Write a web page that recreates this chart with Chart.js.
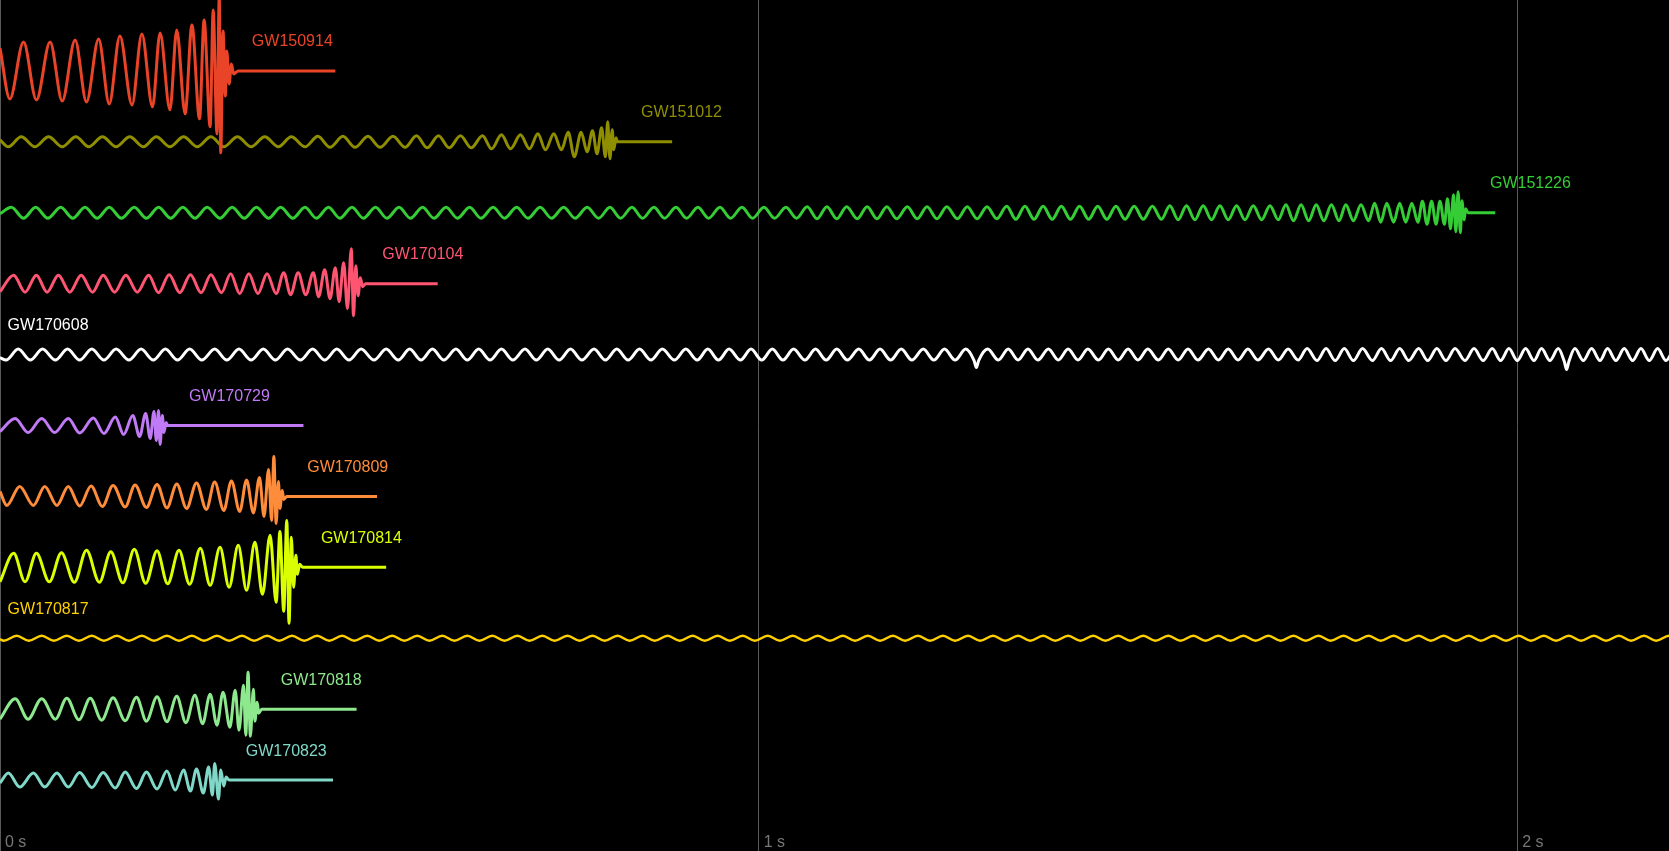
<!DOCTYPE html>
<html>
<head>
<meta charset="utf-8">
<script src="https://cdn.jsdelivr.net/npm/chart.js"></script>
<style>
html,body{margin:0;padding:0;background:#000;overflow:hidden;}
#wrap{position:absolute;left:0;top:0;width:1669px;height:851px;}
</style>
</head>
<body>
<div id="wrap"><canvas id="c"></canvas></div>
<script>
// ---------- data (times in ms, strain in arbitrary display units) ----------
const events = ['GW150914','GW151012','GW151226','GW170104','GW170608','GW170729','GW170809','GW170814','GW170817','GW170818','GW170823'];
const colors = ['#ea4428','#8f8e00','#35cd35','#ff5573','#ffffff','#c07af5','#ff8c3a','#daff00','#ffd000','#8ee88e','#80d8c8'];
const labelAt = [332, 845, 1964, 504, 10, 249, 405, 423, 10, 370, 324];
const tickValues = [0, 1000, 2000];
const tickLabels = ['0 s', '1 s', '2 s'];

const gw150914_t = [0,13,31,48,66,82,99,114,130,144,158,174,187,201,211,224,233,244,253,263,269,277,281,286,289,291,294,297,299,302,305,308,314,442];
const gw150914_h = [23,-28,29,-29,29,-30,31,-31,32,-33,35,-34,37,-36,38,-39,41,-43,46,-48,51,-56,61,-63,75,-82,40,-25,20,-13,7,-3,0,0];

const gw151012_t = [0,11,28,46,64,82,100,117,135,153,171,189,206,224,242,260,278,295,313,331,349,367,384,402,
  419,435,452,468,485,501,518,534, 549,563,578,592,607,621,636, 648,661,673,686,698, 709,719,730,740, 749,757,766,774,
  781,787,793,798,801,804,807,809,812,814,886];
const gw151012_h = [2, -5,5,-5,5,-5,5,-5,5,-5,5,-5,5,-5,5,-5,5,-5,5,-5,5,-5,5,-5,
  5.5,-5.5,5.5,-5.5,5.5,-5.5,5.5,-5.5, 6,-6,6,-6,6,-6,6, -7,7,-7,7,-7, 8,-8,8,-8, 9.5,-15,9.5,-10,
  11,-12,14,-15,20,-17,12,-8,4,0,0];

const gw151226_t = [0,
  15,31,47,63,80,96,112,128,144,160,177,193,209,225,241,257,273,290,306,322,338,354,370,386,
  402,417,433,448,464,479,495,510,526,541,557,572,588,603,619,634,650,665,681,696,712,727,743,758,774,789,
  804,818,833,847,862,876,891,905,920,934,949,963,978,992,1007,1021,1036,1050,
  1064,1077,1090,1103,1116,1130,1143,1156,1169,1182,1196,1209,1222,1235,1248,1262,1275,1288,1301,1314,
  1327,1339,1351,1363,1375,1387,1399,1411,1423,1435,1447,1459,1471,1483,1495,1507,1519,1531,
  1542,1553,1564,1575,1586,1597,1608,1619,1630,1641,1652,1663,1674,1685,
  1695,1705,1715,1725,1735,1745,1755,1765,1774,1784,1794,1804,
  1812,1820,1828,1837,1845,1853,1861,1869,
  1875,1881,1887,1893,1898,1904,
  1908,1912,1916,1919,1922,1925,1927,1930,1932,1935,1971];
const gw151226_h = [-1,
  5.5,-5.5,5.5,-5.5,5.5,-5.5,5.5,-5.5,5.5,-5.5,
  5.5,-5.5,5.5,-5.5,5.5,-5.5,5.5,-5.5,5.5,-5.5,
  5.5,-5.5,5.5,-5.5,5.5,-5.5,5.5,-5.5,5.5,-5.5,
  5.5,-5.5,5.5,-5.5,5.5,-5.5,5.5,-5.5,5.5,-5.5,
  5.5,-5.5,5.5,-5.5,5.5,-5.5,5.5,-5.5,5.5,-5.5,
  5.5,-5.5,5.5,-5.5,5.5,-5.5,5.5,-5.5,5.5,-5.5,
  5.5,-5.5,5.5,-5.5,5.5,-5.5,5.5,-5.5,
  6,-6,6,-6,6,-6,6,-6,6,-6,
  6,-6,6,-6,6,-6,6,-6,6,-6,
  6.5,-6.5,6.5,-6.5,6.5,-6.5,6.5,-6.5,6.5,-6.5,6.5,-6.5,6.5,-6.5,6.5,-6.5,6.5,-6.5,
  7,-7,7,-7,7,-7,7,-7,7,-7,7,-7,7,-7,
  8,-8,8,-8,8,-8,8,-8,8,-8,8,-8,
  9.5,-9.5,9.5,-9.5,9.5,-9.5,9.5,-9.5,
  11.5,-11.5,11.5,-11.5,11.5,-11.5,
  14,-16,18,-19,21,-20,12,-7,4,0,0];

const gw170104_t = [0,18,33,48,62,77,92,107,122,136,151,166,181,196,209,223,237,251,265,278,292,304,316,328,340,352,364,
  374,383,393,403,413,420,428,435,442,447,453,458,463,466,469,472,475,478,482,577];
const gw170104_h = [-8,8.5,-8.5,8.5,-8.5,8.5,-8.5,8.5,-8.5,8.5,-8.5,8.5,-8.5,8.5,-9,9,-9,9,-9,9,-9,10,-10,10,-10,10,-10,
  11,-11,11,-11,11,-13,14,-15,16,-18,21,-25,35,-32,18,-12,6,-3,0,0];

const gw170608_t = [0,
  8,24,40,56,73,89,105,121,137,153,170,186,202,218,234,250,266,283,299,315,331,347,363,379,396,412,428,444,460,476,493,509,525,
  540,555,570,585,601,616,631,646,661,676,692,707,722,737,752,767,783,798,813,828,843,858,873,889,904,919,
  933,947,961,976,990,1004,1018,1032,1046,1061,1075,1089,1103,1117,1132,1146,1160,1174,1188,1202,1217,1231,1245,1259,1273,1284,1287,1290,1302,1316,
  1329,1342,1355,1368,1382,1395,1408,1421,1434,1448,1461,1474,1487,1500,1513,1527,1540,1553,1566,1579,1593,1606,1619,1632,1645,1658,1672,1685,1698,1711,
  1723,1736,1748,1760,1772,1784,1796,1809,1821,1833,1845,1857,1870,1882,1894,1906,1918,1931,1943,1955,1967,
  1978,1989,2000,2011,2022,2032,2043,2054,2062,2065,2068,2076,2087,2098,2109,2119,2130,2141,2152,2163,2174,2185,2196,2206];
const gw170608_h = [-3,
  -5.5,5.5,-5.5,5.5,-5.5,5.5,-5.5,5.5,-5.5,5.5,
  -5.5,5.5,-5.5,5.5,-5.5,5.5,-5.5,5.5,-5.5,5.5,
  -5.5,5.5,-5.5,5.5,-5.5,5.5,-5.5,5.5,-5.5,5.5,
  -5.5,5.5,-5.5,
  5.5,-5.5,5.5,-5.5,5.5,-5.5,5.5,-5.5,5.5,-5.5,
  5.5,-5.5,5.5,-5.5,5.5,-5.5,5.5,-5.5,5.5,-5.5,
  5.5,-5.5,5.5,-5.5,5.5,-5.5,
  5.5,-5.5,5.5,-5.5,5.5,-5.5,5.5,-5.5,5.5,-5.5,
  5.5,-5.5,5.5,-5.5,5.5,-5.5,5.5,-5.5,5.5,-5.5,
  5.5,-5.5,5.5,-5.5,5.5,-6,-13,-6,5.5,-5.5,
  5.5,-5.5,5.5,-5.5,5.5,-5.5,5.5,-5.5,5.5,-5.5,
  5.5,-5.5,5.5,-5.5,5.5,-5.5,5.5,-5.5,5.5,-5.5,
  5.5,-5.5,5.5,-5.5,5.5,-5.5,5.5,-5.5,5.5,-5.5,
  6,-6,6,-6,6,-6,6,-6,6,-6,
  6,-6,6,-6,6,-6,6,-6,6,-6,
  6,
  -6,6,-6,6,-6,6,-6,6,-7,-15,-7,6,
  -6,6,-6,6,-6,6,-6,6,-6,6,-6,6];

const gw170729_t = [0,20,37,55,72,90,105,123,137,152,163,175,184,192,198,203,206,209,211,214,216,219,221,400];
const gw170729_h = [-6,7,-7,7,-7,7,-7.5,7.5,-8,8.5,-9,10,-11,12,-13,14,-15,15,-19,10,-7,3,0,0];

const gw170809_t = [0,9,26,44,59,75,90,105,120,135,149,165,178,193,207,220,233,246,259,272,283,295,305,316,325,334,342,348,354,358,361,364,367,369,372,374,378,497];
const gw170809_h = [5,-9,10,-9,10,-9,10,-9.5,10.5,-10,11,-10.5,11.5,-11,12,-11.5,12.5,-12,13.5,-13,14.5,-14,15.5,-15,16.5,-16.5,19,-20,27,-24,40,-27,15,-12,6,-3,0,0];

const gw170814_t = [0,18,33,48,65,81,98,114,131,146,162,177,192,207,221,236,250,264,277,290,302,314,325,336,346,356,364,369,374,378,381,384,387,390,392,395,399,509];
const gw170814_h = [-14.5,14,-14.5,14,-14.5,14.5,-15,17,-15,15.5,-15.5,18,-16,16.5,-16.5,17,-17,19,-18,20,-20,22,-23,25,-27,32,-35,36,-44,47,-56,30,-20,12,-7,3,0,0];

const gw170817_t = [0,
  5,22,38,55,71,88,104,121,137,154,170,187,203,220,236,253,269,286,302,319,335,352,368,385,401,418,434,451,467,484,
  500,517,533,550,566,583,599,616,632,649,665,682,698,715,731,748,764,781,797,814,830,847,863,880,896,913,929,946,962,979,
  995,1012,1028,1045,1061,1078,1094,1111,1127,1144,1160,1177,1193,1210,1226,1243,1259,1276,1292,1309,1325,1342,1358,1375,1391,1408,1424,1441,1457,1474,
  1490,1507,1523,1540,1556,1573,1589,1606,1622,1639,1655,1672,1688,1705,1721,1738,1754,1771,1787,1804,1820,1837,1853,1870,1886,1903,1919,1936,1952,1969,
  1985,2002,2018,2035,2051,2068,2084,2101,2117,2134,2150,2167,2183,2200,2216];
const gw170817_h = [-1,
  -2.5,2.5,-2.5,2.5,-2.5,2.5,-2.5,2.5,-2.5,2.5,
  -2.5,2.5,-2.5,2.5,-2.5,2.5,-2.5,2.5,-2.5,2.5,
  -2.5,2.5,-2.5,2.5,-2.5,2.5,-2.5,2.5,-2.5,2.5,
  -2.5,2.5,-2.5,2.5,-2.5,2.5,-2.5,2.5,-2.5,2.5,
  -2.5,2.5,-2.5,2.5,-2.5,2.5,-2.5,2.5,-2.5,2.5,
  -2.5,2.5,-2.5,2.5,-2.5,2.5,-2.5,2.5,-2.5,2.5,
  -2.5,2.5,-2.5,2.5,-2.5,2.5,-2.5,2.5,-2.5,2.5,
  -2.5,2.5,-2.5,2.5,-2.5,2.5,-2.5,2.5,-2.5,2.5,
  -2.5,2.5,-2.5,2.5,-2.5,2.5,-2.5,2.5,-2.5,2.5,
  -2.5,2.5,-2.5,2.5,-2.5,2.5,-2.5,2.5,-2.5,2.5,
  -2.5,2.5,-2.5,2.5,-2.5,2.5,-2.5,2.5,-2.5,2.5,
  -2.5,2.5,-2.5,2.5,-2.5,2.5,-2.5,2.5,-2.5,2.5,
  -2.5,2.5,-2.5,2.5,-2.5,2.5,-2.5,2.5,-2.5,2.5,
  -2.5,2.5,-2.5,2.5,-2.5];

const gw170818_t = [0,20,37,55,73,88,104,119,134,149,165,180,193,207,220,233,245,257,267,277,286,294,303,310,315,321,324,327,330,334,336,339,341,345,470];
const gw170818_h = [-10,10.5,-10,10.5,-10,11,-10.5,11,-11,11.5,-11.5,12,-12,12.5,-12.5,13,-13.5,14,-14.5,15,-16,17,-18,19,-21,24,-26,37,-27,20,-12,7,-4,0,0];

const gw170823_t = [0,11,26,44,59,75,90,105,121,136,152,165,180,193,207,220,231,242,251,259,268,275,280,283,288,291,295,298,302,439];
const gw170823_h = [-3,7,-7,7,-7,7,-7,7.5,-7.5,7.5,-8,8,-8.5,8,-9,9,-10,10,-11,11,-13,13,-15,16.5,-19,10,-6,3,0,0];

// ---------- layout ----------
const seriesT = [gw150914_t,gw151012_t,gw151226_t,gw170104_t,gw170608_t,gw170729_t,gw170809_t,gw170814_t,gw170817_t,gw170818_t,gw170823_t];
const seriesH = [gw150914_h,gw151012_h,gw151226_h,gw170104_h,gw170608_h,gw170729_h,gw170809_h,gw170814_h,gw170817_h,gw170818_h,gw170823_h];
const Y_MAX = 852, ROW = 71, LABEL_LIFT = 29;
const rowBase = i => Y_MAX - ROW * (i + 1);
const FONT = '"Liberation Sans", Arial, Helvetica, sans-serif';

const datasets = events.map((name, i) => ({
  label: name,
  data: seriesT[i].map((t, k) => ({ x: t, y: rowBase(i) + seriesH[i][k] })),
  borderColor: colors[i],
  backgroundColor: colors[i],
  borderWidth: name === 'GW170817' ? 2.5 : 3,
  pointRadius: 0,
  cubicInterpolationMode: 'monotone',
  borderJoinStyle: 'round',
  borderCapStyle: 'butt',
  fill: false
}));

const labelPlugin = {
  id: 'eventLabels',
  afterDatasetsDraw(chart) {
    const { ctx, scales: { x, y } } = chart;
    ctx.save();
    ctx.font = '16px ' + FONT;
    ctx.textBaseline = 'middle';
    ctx.textAlign = 'left';
    events.forEach((name, i) => {
      ctx.fillStyle = colors[i];
      ctx.fillText(name, x.getPixelForValue(labelAt[i]), y.getPixelForValue(rowBase(i) + LABEL_LIFT));
    });
    ctx.restore();
  }
};

new Chart(document.getElementById('c'), {
  type: 'line',
  data: { datasets },
  plugins: [labelPlugin],
  options: {
    responsive: true,
    maintainAspectRatio: false,
    animation: false,
    devicePixelRatio: 1,
    layout: { padding: 0 },
    plugins: { legend: { display: false }, tooltip: { enabled: false } },
    scales: {
      x: {
        type: 'linear', min: 0, max: 2200, position: 'bottom',
        afterBuildTicks: s => { s.ticks = tickValues.map(v => ({ value: v })); },
        ticks: {
          mirror: true, align: 'start', padding: 0, labelOffset: 5,
          autoSkip: false, maxRotation: 0, minRotation: 0,
          color: '#777777',
          font: { family: FONT, size: 16, lineHeight: 1 },
          callback: (v, idx) => tickLabels[idx]
        },
        grid: { color: '#5a5a5a', lineWidth: 1, drawTicks: false },
        border: { display: false }
      },
      y: { type: 'linear', min: 0, max: Y_MAX, display: false }
    }
  }
});
</script>
</body>
</html>
